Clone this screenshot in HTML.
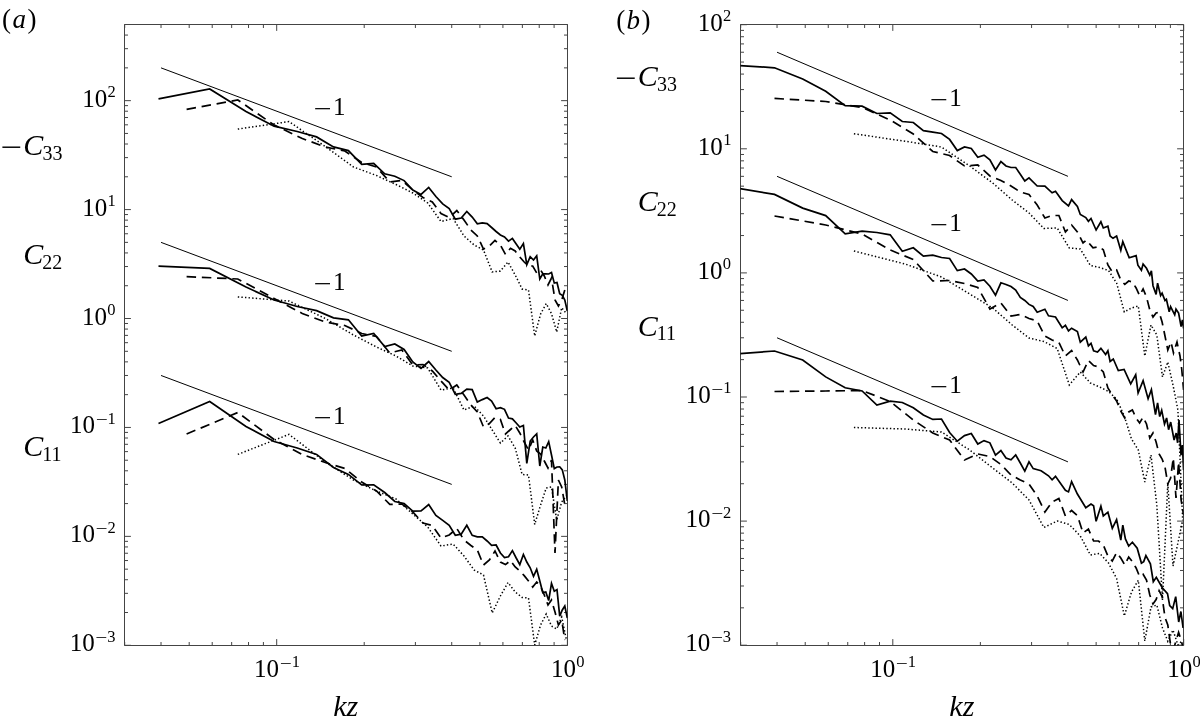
<!DOCTYPE html><html><head><meta charset="utf-8"><style>html,body{margin:0;padding:0;background:#fff;}svg{display:block}</style></head><body>
<svg width="1200" height="725" viewBox="0 0 1200 725" font-family="Liberation Serif, serif" fill="#000">
<rect width="1200" height="725" fill="#fff"/>
<path d="M124.5,24.5H567.5V645.5H124.5Z" fill="none" stroke="#444" stroke-width="1"/>
<path d="M124.70,645.5v-3.5M124.70,24.5v3.5M161.02,645.5v-3.5M161.02,24.5v3.5M189.19,645.5v-3.5M189.19,24.5v3.5M212.21,645.5v-3.5M212.21,24.5v3.5M231.67,645.5v-3.5M231.67,24.5v3.5M248.53,645.5v-3.5M248.53,24.5v3.5M263.40,645.5v-3.5M263.40,24.5v3.5M276.70,645.5v-6.4M276.70,24.5v6.4M364.21,645.5v-3.5M364.21,24.5v3.5M415.40,645.5v-3.5M415.40,24.5v3.5M451.72,645.5v-3.5M451.72,24.5v3.5M479.89,645.5v-3.5M479.89,24.5v3.5M502.91,645.5v-3.5M502.91,24.5v3.5M522.37,645.5v-3.5M522.37,24.5v3.5M539.23,645.5v-3.5M539.23,24.5v3.5M554.10,645.5v-3.5M554.10,24.5v3.5M567.40,645.5v-6.4M567.40,24.5v6.4M124.5,645.30h6.4M567.5,645.30h-6.4M124.5,612.51h3.5M567.5,612.51h-3.5M124.5,593.33h3.5M567.5,593.33h-3.5M124.5,579.72h3.5M567.5,579.72h-3.5M124.5,569.16h3.5M567.5,569.16h-3.5M124.5,560.54h3.5M567.5,560.54h-3.5M124.5,553.24h3.5M567.5,553.24h-3.5M124.5,546.93h3.5M567.5,546.93h-3.5M124.5,541.35h3.5M567.5,541.35h-3.5M124.5,536.37h6.4M567.5,536.37h-6.4M124.5,503.58h3.5M567.5,503.58h-3.5M124.5,484.40h3.5M567.5,484.40h-3.5M124.5,470.79h3.5M567.5,470.79h-3.5M124.5,460.23h3.5M567.5,460.23h-3.5M124.5,451.61h3.5M567.5,451.61h-3.5M124.5,444.31h3.5M567.5,444.31h-3.5M124.5,438.00h3.5M567.5,438.00h-3.5M124.5,432.42h3.5M567.5,432.42h-3.5M124.5,427.44h6.4M567.5,427.44h-6.4M124.5,394.65h3.5M567.5,394.65h-3.5M124.5,375.47h3.5M567.5,375.47h-3.5M124.5,361.86h3.5M567.5,361.86h-3.5M124.5,351.30h3.5M567.5,351.30h-3.5M124.5,342.68h3.5M567.5,342.68h-3.5M124.5,335.38h3.5M567.5,335.38h-3.5M124.5,329.07h3.5M567.5,329.07h-3.5M124.5,323.49h3.5M567.5,323.49h-3.5M124.5,318.51h6.4M567.5,318.51h-6.4M124.5,285.72h3.5M567.5,285.72h-3.5M124.5,266.54h3.5M567.5,266.54h-3.5M124.5,252.93h3.5M567.5,252.93h-3.5M124.5,242.37h3.5M567.5,242.37h-3.5M124.5,233.75h3.5M567.5,233.75h-3.5M124.5,226.45h3.5M567.5,226.45h-3.5M124.5,220.14h3.5M567.5,220.14h-3.5M124.5,214.56h3.5M567.5,214.56h-3.5M124.5,209.58h6.4M567.5,209.58h-6.4M124.5,176.79h3.5M567.5,176.79h-3.5M124.5,157.61h3.5M567.5,157.61h-3.5M124.5,144.00h3.5M567.5,144.00h-3.5M124.5,133.44h3.5M567.5,133.44h-3.5M124.5,124.82h3.5M567.5,124.82h-3.5M124.5,117.52h3.5M567.5,117.52h-3.5M124.5,111.21h3.5M567.5,111.21h-3.5M124.5,105.63h3.5M567.5,105.63h-3.5M124.5,100.65h6.4M567.5,100.65h-6.4M124.5,67.86h3.5M567.5,67.86h-3.5M124.5,48.68h3.5M567.5,48.68h-3.5M124.5,35.07h3.5M567.5,35.07h-3.5M124.5,24.51h3.5M567.5,24.51h-3.5" fill="none" stroke="#444" stroke-width="1"/>
<path d="M740.5,24.5H1183.5V645.5H740.5Z" fill="none" stroke="#444" stroke-width="1"/>
<path d="M740.69,645.5v-3.5M740.69,24.5v3.5M777.04,645.5v-3.5M777.04,24.5v3.5M805.23,645.5v-3.5M805.23,24.5v3.5M828.26,645.5v-3.5M828.26,24.5v3.5M847.74,645.5v-3.5M847.74,24.5v3.5M864.61,645.5v-3.5M864.61,24.5v3.5M879.49,645.5v-3.5M879.49,24.5v3.5M892.80,645.5v-6.4M892.80,24.5v6.4M980.37,645.5v-3.5M980.37,24.5v3.5M1031.59,645.5v-3.5M1031.59,24.5v3.5M1067.94,645.5v-3.5M1067.94,24.5v3.5M1096.13,645.5v-3.5M1096.13,24.5v3.5M1119.16,645.5v-3.5M1119.16,24.5v3.5M1138.64,645.5v-3.5M1138.64,24.5v3.5M1155.51,645.5v-3.5M1155.51,24.5v3.5M1170.39,645.5v-3.5M1170.39,24.5v3.5M1183.70,645.5v-6.4M1183.70,24.5v6.4M740.5,645.20h6.4M1183.5,645.20h-6.4M740.5,607.84h3.5M1183.5,607.84h-3.5M740.5,585.99h3.5M1183.5,585.99h-3.5M740.5,570.48h3.5M1183.5,570.48h-3.5M740.5,558.46h3.5M1183.5,558.46h-3.5M740.5,548.63h3.5M1183.5,548.63h-3.5M740.5,540.32h3.5M1183.5,540.32h-3.5M740.5,533.13h3.5M1183.5,533.13h-3.5M740.5,526.78h3.5M1183.5,526.78h-3.5M740.5,521.10h6.4M1183.5,521.10h-6.4M740.5,483.74h3.5M1183.5,483.74h-3.5M740.5,461.89h3.5M1183.5,461.89h-3.5M740.5,446.38h3.5M1183.5,446.38h-3.5M740.5,434.36h3.5M1183.5,434.36h-3.5M740.5,424.53h3.5M1183.5,424.53h-3.5M740.5,416.22h3.5M1183.5,416.22h-3.5M740.5,409.03h3.5M1183.5,409.03h-3.5M740.5,402.68h3.5M1183.5,402.68h-3.5M740.5,397.00h6.4M1183.5,397.00h-6.4M740.5,359.64h3.5M1183.5,359.64h-3.5M740.5,337.79h3.5M1183.5,337.79h-3.5M740.5,322.28h3.5M1183.5,322.28h-3.5M740.5,310.26h3.5M1183.5,310.26h-3.5M740.5,300.43h3.5M1183.5,300.43h-3.5M740.5,292.12h3.5M1183.5,292.12h-3.5M740.5,284.93h3.5M1183.5,284.93h-3.5M740.5,278.58h3.5M1183.5,278.58h-3.5M740.5,272.90h6.4M1183.5,272.90h-6.4M740.5,235.54h3.5M1183.5,235.54h-3.5M740.5,213.69h3.5M1183.5,213.69h-3.5M740.5,198.18h3.5M1183.5,198.18h-3.5M740.5,186.16h3.5M1183.5,186.16h-3.5M740.5,176.33h3.5M1183.5,176.33h-3.5M740.5,168.02h3.5M1183.5,168.02h-3.5M740.5,160.83h3.5M1183.5,160.83h-3.5M740.5,154.48h3.5M1183.5,154.48h-3.5M740.5,148.80h6.4M1183.5,148.80h-6.4M740.5,111.44h3.5M1183.5,111.44h-3.5M740.5,89.59h3.5M1183.5,89.59h-3.5M740.5,74.08h3.5M1183.5,74.08h-3.5M740.5,62.06h3.5M1183.5,62.06h-3.5M740.5,52.23h3.5M1183.5,52.23h-3.5M740.5,43.92h3.5M1183.5,43.92h-3.5M740.5,36.73h3.5M1183.5,36.73h-3.5M740.5,30.38h3.5M1183.5,30.38h-3.5M740.5,24.70h6.4M1183.5,24.70h-6.4" fill="none" stroke="#444" stroke-width="1"/>
<text x="82.16" y="106.65" font-size="25">10</text>
<text x="107.46" y="97.05" font-size="16.5">2</text>
<text x="697.76" y="30.70" font-size="25">10</text>
<text x="723.06" y="21.10" font-size="16.5">2</text>
<text x="82.24" y="215.58" font-size="25">10</text>
<text x="107.54" y="205.98" font-size="16.5">1</text>
<text x="697.84" y="154.80" font-size="25">10</text>
<text x="723.14" y="145.20" font-size="16.5">1</text>
<text x="81.88" y="324.51" font-size="25">10</text>
<text x="107.18" y="314.91" font-size="16.5">0</text>
<text x="697.48" y="278.90" font-size="25">10</text>
<text x="722.78" y="269.30" font-size="16.5">0</text>
<text x="70.03" y="433.44" font-size="25">10</text>
<text transform="translate(95.63,424.94) scale(1.28,1)" font-size="16.5">−</text>
<text x="107.54" y="423.84" font-size="16.5">1</text>
<text x="685.63" y="403.00" font-size="25">10</text>
<text transform="translate(711.23,394.50) scale(1.28,1)" font-size="16.5">−</text>
<text x="723.14" y="393.40" font-size="16.5">1</text>
<text x="69.95" y="542.37" font-size="25">10</text>
<text transform="translate(95.55,533.87) scale(1.28,1)" font-size="16.5">−</text>
<text x="107.46" y="532.77" font-size="16.5">2</text>
<text x="685.55" y="527.10" font-size="25">10</text>
<text transform="translate(711.15,518.60) scale(1.28,1)" font-size="16.5">−</text>
<text x="723.06" y="517.50" font-size="16.5">2</text>
<text x="69.68" y="651.30" font-size="25">10</text>
<text transform="translate(95.28,642.80) scale(1.28,1)" font-size="16.5">−</text>
<text x="107.20" y="641.70" font-size="16.5">3</text>
<text x="685.28" y="651.20" font-size="25">10</text>
<text transform="translate(710.88,642.70) scale(1.28,1)" font-size="16.5">−</text>
<text x="722.80" y="641.60" font-size="16.5">3</text>
<text x="254.12" y="677.0" font-size="25">10</text>
<text transform="translate(279.72,668.50) scale(1.28,1)" font-size="16.5">−</text>
<text x="291.63" y="667.40" font-size="16.5">1</text>
<text x="550.92" y="677.0" font-size="25">10</text>
<text x="576.22" y="667.40" font-size="16.5">0</text>
<text x="870.22" y="677.0" font-size="25">10</text>
<text transform="translate(895.82,668.50) scale(1.28,1)" font-size="16.5">−</text>
<text x="907.73" y="667.40" font-size="16.5">1</text>
<text x="1167.22" y="677.0" font-size="25">10</text>
<text x="1192.52" y="667.40" font-size="16.5">0</text>
<text x="2.11" y="28.2" font-size="27" letter-spacing="1.4">(<tspan font-style="italic">a</tspan>)</text>
<text x="616.21" y="28.6" font-size="27" letter-spacing="1.4">(<tspan font-style="italic">b</tspan>)</text>
<text transform="translate(0.82,157.40) scale(1.28,1)" font-size="30">−</text>
<text x="23.33" y="155.2" font-size="30" font-style="italic">C</text>
<text x="42.53" y="159.50" font-size="20">33</text>
<text x="23.13" y="264.2" font-size="30" font-style="italic">C</text>
<text x="42.33" y="268.50" font-size="20">22</text>
<text x="23.13" y="456.2" font-size="30" font-style="italic">C</text>
<text x="42.33" y="460.50" font-size="20">11</text>
<text transform="translate(615.32,88.40) scale(1.28,1)" font-size="30">−</text>
<text x="637.83" y="86.2" font-size="30" font-style="italic">C</text>
<text x="657.03" y="90.50" font-size="20">33</text>
<text x="637.63" y="211.2" font-size="30" font-style="italic">C</text>
<text x="656.83" y="215.50" font-size="20">22</text>
<text x="637.63" y="335.7" font-size="30" font-style="italic">C</text>
<text x="656.83" y="340.00" font-size="20">11</text>
<text x="333.27" y="716.2" font-size="30" font-style="italic">kz</text>
<text x="949.37" y="715.8" font-size="30" font-style="italic">kz</text>
<text transform="translate(313.41,116.75) scale(1.28,1)" font-size="25">−</text>
<text x="333.05" y="114.75" font-size="25">1</text>
<text transform="translate(313.41,292.30) scale(1.28,1)" font-size="25">−</text>
<text x="333.05" y="290.3" font-size="25">1</text>
<text transform="translate(313.41,425.80) scale(1.28,1)" font-size="25">−</text>
<text x="333.05" y="423.8" font-size="25">1</text>
<text transform="translate(929.71,107.70) scale(1.28,1)" font-size="25">−</text>
<text x="949.35" y="105.7" font-size="25">1</text>
<text transform="translate(929.71,232.90) scale(1.28,1)" font-size="25">−</text>
<text x="949.35" y="230.9" font-size="25">1</text>
<text transform="translate(929.71,394.70) scale(1.28,1)" font-size="25">−</text>
<text x="949.35" y="392.7" font-size="25">1</text>
<line x1="161.02" y1="67.86" x2="451.72" y2="176.79" stroke="#000" stroke-width="1"/>
<line x1="161.02" y1="242.37" x2="451.72" y2="351.30" stroke="#000" stroke-width="1"/>
<line x1="161.02" y1="375.47" x2="451.72" y2="484.40" stroke="#000" stroke-width="1"/>
<line x1="777.04" y1="52.23" x2="1067.94" y2="176.33" stroke="#000" stroke-width="1"/>
<line x1="777.04" y1="176.33" x2="1067.94" y2="300.43" stroke="#000" stroke-width="1"/>
<line x1="777.04" y1="337.79" x2="1067.94" y2="461.89" stroke="#000" stroke-width="1"/>
<defs><clipPath id="ca"><rect x="124.5" y="24.5" width="443" height="621"/></clipPath><clipPath id="cb"><rect x="740.5" y="24.5" width="443" height="621"/></clipPath></defs>
<path d="M158.5,98.8 209.7,89.0 246.0,111.5 274.1,126.2 297.2,131.5 316.6,136.9 333.5,146.9 348.4,150.6 361.7,164.4 373.7,163.5 384.7,173.8 394.8,176.2 404.1,180.6 412.8,190.0 421.0,194.4 428.7,187.4 435.9,196.5 442.7,203.9 449.2,208.5 455.3,219.2 461.2,218.0 466.8,211.4 472.2,217.1 477.3,223.8 482.3,222.8 487.1,223.6 491.6,227.5 496.1,231.5 500.4,235.0 504.5,237.0 508.5,241.2 512.4,238.4 516.2,244.0 519.8,249.2 523.4,243.6 526.8,264.7 530.2,256.7 533.5,260.0 536.7,255.8 539.8,279.0 542.8,273.8 545.8,273.8 548.7,274.0 551.5,272.6 554.3,283.1 557.0,282.5 559.7,293.7 562.3,295.4 564.8,300.0 567.3,311.0" fill="none" stroke="#000" stroke-linejoin="miter" stroke-miterlimit="4" stroke-width="1.7" clip-path="url(#ca)"/>
<path d="M186.6,109.4 237.8,100.0 274.1,125.0 302.3,138.5 325.3,147.0 344.8,151.0 361.7,162.5 376.5,167.0 389.8,182.0 401.9,180.5 412.8,190.0 423.0,197.5 432.3,202.0 441.0,213.5 449.2,217.5 456.8,210.5 464.0,220.0 470.9,230.0 477.3,236.0 483.5,249.0 489.4,246.0 495.0,240.5 500.4,245.0 505.5,254.5 510.5,248.3 515.2,251.0 519.8,257.0 524.2,262.0 528.5,266.0 532.7,266.0 536.7,273.0 540.6,270.0 544.3,276.0 548.0,285.0 551.5,278.0 555.0,300.0 558.4,306.0 561.7,300.0 564.8,290.0" fill="none" stroke="#000" stroke-linejoin="miter" stroke-miterlimit="4" stroke-width="1.7" stroke-dasharray="9.5 5.75" clip-path="url(#ca)"/>
<path d="M237.8,129.1 289.0,121.6 325.3,146.5 353.5,167.0 376.5,175.5 396.0,184.5 412.8,193.0 427.7,203.0 441.0,221.5 453.1,218.5 464.0,236.0 474.1,245.0 483.5,250.0 492.2,272.0 500.4,271.0 508.0,262.0 515.2,275.0 522.1,289.0 528.5,290.0 534.7,336.0 540.6,314.0 546.2,303.6 551.5,313.6 556.7,332.0 561.7,307.7 566.4,313.6" fill="none" stroke="#000" stroke-linejoin="miter" stroke-miterlimit="4" stroke-width="1.5" stroke-dasharray="1.4 2.2" clip-path="url(#ca)"/>
<path d="M158.5,266.2 209.7,268.4 246.0,287.0 274.1,300.0 297.2,306.5 316.6,310.6 333.5,317.8 348.4,319.8 361.7,336.0 373.7,333.5 384.7,346.5 394.8,344.0 404.1,349.4 412.8,362.0 421.0,368.5 428.7,361.5 435.9,370.0 442.7,377.5 449.2,382.3 455.3,394.4 461.2,393.4 466.8,389.1 472.2,389.6 477.3,402.1 482.3,399.6 487.1,397.5 491.6,401.0 496.1,408.7 500.4,407.6 504.5,409.3 508.5,418.1 512.4,418.9 516.2,423.0 519.8,427.0 523.4,425.5 526.8,463.3 530.2,441.0 533.5,437.0 536.7,433.9 539.8,466.0 542.8,447.0 545.8,448.0 548.7,441.6 551.5,455.0 554.3,468.6 557.0,467.0 559.7,466.8 562.3,469.9 564.8,480.0 567.3,501.0" fill="none" stroke="#000" stroke-linejoin="miter" stroke-miterlimit="4" stroke-width="1.7" clip-path="url(#ca)"/>
<path d="M186.6,276.6 237.8,279.0 274.1,298.4 302.3,313.5 325.3,322.0 344.8,325.5 361.7,333.5 376.5,336.5 389.8,353.0 401.9,350.0 412.8,365.0 423.0,364.5 432.3,371.0 441.0,381.0 449.2,390.0 456.8,385.0 464.0,395.0 470.9,405.0 477.3,412.0 483.5,427.0 489.4,423.5 495.0,417.5 500.4,419.5 505.5,434.0 510.5,429.5 515.2,425.5 519.8,433.0 524.2,442.0 528.5,450.0 532.7,440.0 536.7,451.0 540.6,454.0 544.3,461.0 548.0,468.0 551.5,460.0 555.0,553.0 558.4,480.0 561.7,487.0 564.8,505.0" fill="none" stroke="#000" stroke-linejoin="miter" stroke-miterlimit="4" stroke-width="1.7" stroke-dasharray="9.5 5.75" clip-path="url(#ca)"/>
<path d="M237.8,296.9 289.0,301.0 325.3,318.5 353.5,335.0 376.5,347.0 396.0,356.0 412.8,366.0 427.7,368.0 441.0,390.0 453.1,388.0 464.0,410.0 474.1,406.0 483.5,416.0 492.2,430.0 500.4,443.0 508.0,436.0 515.2,448.0 522.1,474.5 528.5,475.0 534.7,524.5 540.6,505.0 546.2,488.0 551.5,487.0 556.7,520.0 561.7,502.0 566.4,496.0" fill="none" stroke="#000" stroke-linejoin="miter" stroke-miterlimit="4" stroke-width="1.5" stroke-dasharray="1.4 2.2" clip-path="url(#ca)"/>
<path d="M158.5,423.5 209.7,401.5 246.0,426.5 274.1,441.5 297.2,448.0 316.6,454.4 333.5,467.5 348.4,474.4 361.7,485.0 373.7,484.8 384.7,492.5 394.8,501.5 404.1,503.5 412.8,511.2 421.0,511.0 428.7,504.6 435.9,515.4 442.7,520.4 449.2,525.3 455.3,535.3 461.2,534.2 466.8,525.3 472.2,535.3 477.3,536.9 482.3,536.9 487.1,541.0 491.6,545.4 496.1,545.0 500.4,553.0 504.5,557.5 508.5,556.8 512.4,550.6 516.2,558.0 519.8,564.6 523.4,554.5 526.8,562.0 530.2,567.8 533.5,576.3 536.7,569.3 539.8,581.0 542.8,592.7 545.8,592.0 548.7,600.5 551.5,583.4 554.3,591.2 557.0,589.6 559.7,616.1 562.3,610.0 564.8,606.0 567.3,618.0" fill="none" stroke="#000" stroke-linejoin="miter" stroke-miterlimit="4" stroke-width="1.7" clip-path="url(#ca)"/>
<path d="M186.6,434.0 237.8,412.5 274.1,439.5 302.3,454.5 325.3,462.5 344.8,468.5 361.7,482.0 376.5,491.0 389.8,504.4 401.9,504.0 412.8,512.0 423.0,523.0 432.3,525.5 441.0,538.0 449.2,535.0 456.8,528.5 464.0,540.0 470.9,545.5 477.3,550.0 483.5,565.0 489.4,560.0 495.0,551.0 500.4,562.0 505.5,564.6 510.5,560.5 515.2,567.0 519.8,571.0 524.2,575.6 528.5,581.0 532.7,587.0 536.7,582.0 540.6,586.5 544.3,595.0 548.0,605.0 551.5,600.0 555.0,612.0 558.4,625.0 561.7,620.0 564.8,640.0" fill="none" stroke="#000" stroke-linejoin="miter" stroke-miterlimit="4" stroke-width="1.7" stroke-dasharray="9.5 5.75" clip-path="url(#ca)"/>
<path d="M237.8,454.4 289.0,434.4 325.3,462.0 353.5,480.0 376.5,491.0 396.0,499.0 412.8,514.0 427.7,527.0 441.0,546.0 453.1,544.0 464.0,556.0 474.1,570.0 483.5,575.0 492.2,613.0 500.4,596.0 508.0,582.5 515.2,592.0 522.1,597.5 528.5,598.0 534.7,645.0 540.6,625.0 546.2,614.0 551.5,626.0 556.7,629.0 561.7,617.0 566.4,640.0" fill="none" stroke="#000" stroke-linejoin="miter" stroke-miterlimit="4" stroke-width="1.5" stroke-dasharray="1.4 2.2" clip-path="url(#ca)"/>
<path d="M738.1,65.4 774.5,67.8 802.7,79.0 825.7,91.2 845.2,105.6 862.1,106.2 876.9,113.5 890.2,112.8 902.3,121.5 913.3,122.5 923.4,130.6 932.8,132.1 941.5,133.5 949.6,139.4 957.3,150.6 964.5,146.9 971.3,148.5 977.8,157.2 984.0,155.2 989.9,159.8 995.5,170.0 1000.9,161.5 1006.0,166.0 1011.0,167.5 1015.7,167.5 1020.3,174.2 1024.8,181.0 1029.0,177.9 1037.2,186.0 1044.9,186.2 1052.1,192.8 1055.5,191.2 1062.2,200.6 1068.5,205.8 1071.6,199.6 1077.4,206.5 1080.3,214.5 1085.8,217.6 1088.4,221.3 1091.0,218.5 1096.1,230.0 1100.9,221.8 1103.3,228.0 1107.9,226.1 1110.1,236.0 1113.0,238.3 1116.6,236.0 1120.8,250.3 1122.8,241.6 1129.2,257.8 1136.1,255.7 1137.9,265.2 1141.4,270.2 1143.1,264.0 1146.5,268.3 1149.8,275.1 1151.4,270.8 1153.0,285.7 1156.1,294.4 1157.6,283.2 1160.6,295.6 1162.1,293.1 1165.0,300.5 1166.4,299.3 1169.2,311.7 1170.6,306.7 1174.7,314.8 1176.0,309.2 1178.6,313.0 1181.1,326.6 1182.4,319.8 1183.6,328.5" fill="none" stroke="#000" stroke-linejoin="miter" stroke-miterlimit="4" stroke-width="1.7" clip-path="url(#cb)"/>
<path d="M774.5,98.4 825.7,101.5 862.1,107.5 890.2,120.0 913.3,134.0 932.8,151.5 949.6,155.5 964.5,166.0 977.8,165.0 989.9,176.0 1000.9,180.5 1011.0,186.0 1020.3,192.0 1029.0,194.5 1037.2,205.0 1044.9,218.0 1052.1,215.5 1058.9,215.5 1065.4,232.0 1071.6,225.0 1077.4,232.0 1083.0,243.0 1086.5,240.0 1093.0,247.9 1098.5,246.6 1103.3,249.7 1107.9,265.0 1112.3,272.0 1116.6,270.0 1120.8,280.0 1124.8,284.4 1128.7,281.0 1132.4,282.0 1136.1,288.0 1139.6,295.6 1143.1,289.0 1146.5,297.0 1149.8,310.0 1153.0,317.0 1156.1,313.0 1159.1,312.0 1162.1,322.0 1165.0,336.0 1167.8,350.0 1171.0,342.0 1173.5,353.0 1177.0,342.0 1180.0,356.0 1181.7,369.0 1183.6,390.0" fill="none" stroke="#000" stroke-linejoin="miter" stroke-miterlimit="4" stroke-width="1.7" stroke-dasharray="9.5 5.75" clip-path="url(#cb)"/>
<path d="M853.9,133.8 905.1,141.2 941.5,147.0 969.7,166.0 992.7,183.0 1012.2,200.0 1029.0,213.0 1043.9,228.5 1057.2,228.0 1069.3,248.0 1080.3,249.0 1090.4,265.5 1099.7,267.5 1108.5,270.5 1116.6,283.0 1124.3,312.0 1131.5,308.0 1138.3,306.0 1144.8,356.0 1151.0,325.0 1156.8,335.0 1162.5,377.0 1167.8,362.0 1173.0,385.0 1177.9,410.0 1180.5,470.0 1182.7,520.0" fill="none" stroke="#000" stroke-linejoin="miter" stroke-miterlimit="4" stroke-width="1.5" stroke-dasharray="1.4 2.2" clip-path="url(#cb)"/>
<path d="M738.1,188.3 774.5,194.4 802.7,208.1 825.7,215.6 845.2,233.8 862.1,231.2 876.9,232.5 890.2,234.8 902.3,251.2 913.3,247.8 923.4,256.2 932.8,255.2 941.5,257.5 949.6,258.5 957.3,270.6 964.5,269.0 971.3,274.0 977.8,281.0 984.0,279.8 989.9,286.2 995.5,295.2 1000.9,282.8 1006.0,284.5 1011.0,286.5 1015.7,290.0 1020.3,297.5 1024.8,300.5 1029.0,304.4 1033.2,306.5 1037.2,312.3 1044.9,309.2 1048.5,315.8 1055.5,317.0 1062.2,327.8 1065.4,325.3 1068.5,330.9 1071.6,328.2 1077.4,331.5 1080.3,342.1 1085.8,337.1 1088.4,345.8 1091.0,343.3 1093.6,350.8 1097.5,352.0 1100.9,348.3 1105.6,354.5 1107.9,350.8 1110.1,361.5 1113.3,359.0 1118.3,370.6 1124.1,369.5 1130.7,383.9 1135.7,374.8 1138.1,393.0 1143.1,380.6 1148.1,398.8 1151.4,389.7 1155.5,414.5 1157.6,402.8 1159.7,416.6 1161.7,410.3 1164.5,424.1 1166.6,417.9 1168.6,429.7 1170.7,422.1 1174.1,440.0 1176.2,433.1 1177.6,442.8 1179.0,420.0 1181.0,455.2 1182.4,445.0 1183.6,470.0" fill="none" stroke="#000" stroke-linejoin="miter" stroke-miterlimit="4" stroke-width="1.7" clip-path="url(#cb)"/>
<path d="M774.5,216.0 825.7,225.0 862.1,234.0 890.2,250.0 913.3,259.5 932.8,281.0 949.6,280.5 964.5,283.5 977.8,287.5 989.9,309.0 1000.9,303.0 1011.0,316.0 1020.3,314.5 1029.0,318.5 1037.2,321.0 1044.9,336.0 1052.1,340.0 1058.9,342.5 1065.4,356.0 1071.6,350.5 1077.4,360.0 1083.0,372.0 1088.4,360.5 1093.6,365.5 1098.5,367.0 1103.3,372.0 1107.9,388.0 1112.3,395.0 1116.6,401.0 1120.8,411.0 1124.8,418.0 1128.7,412.0 1132.4,410.0 1136.1,418.0 1139.6,423.0 1143.1,417.0 1146.5,424.0 1149.8,438.0 1153.0,433.0 1156.1,442.0 1159.1,454.0 1162.1,459.0 1165.0,467.0 1167.8,484.0 1170.6,478.0 1173.3,458.0 1176.0,498.0 1178.6,462.0 1181.1,500.0 1183.6,515.0" fill="none" stroke="#000" stroke-linejoin="miter" stroke-miterlimit="4" stroke-width="1.7" stroke-dasharray="9.5 5.75" clip-path="url(#cb)"/>
<path d="M853.9,251.0 905.1,264.0 941.5,277.0 969.7,294.0 992.7,308.0 1012.2,325.0 1029.0,338.0 1043.9,341.5 1057.2,348.5 1069.3,385.0 1080.3,372.0 1090.4,383.0 1099.7,387.0 1108.5,391.5 1116.6,399.0 1124.3,416.0 1131.5,439.0 1138.3,450.0 1144.8,482.0 1151.0,455.0 1156.8,505.0 1162.5,600.0 1167.8,483.0 1173.0,566.0 1177.9,543.0 1182.7,520.0" fill="none" stroke="#000" stroke-linejoin="miter" stroke-miterlimit="4" stroke-width="1.5" stroke-dasharray="1.4 2.2" clip-path="url(#cb)"/>
<path d="M738.1,353.8 774.5,351.0 802.7,360.0 825.7,376.9 845.2,387.8 862.1,391.0 876.9,405.0 890.2,401.2 902.3,402.5 913.3,407.8 923.4,415.0 932.8,419.4 941.5,419.0 949.6,432.5 957.3,441.2 964.5,435.6 971.3,433.5 977.8,444.0 984.0,440.6 989.9,442.8 995.5,455.2 1000.9,450.6 1006.0,458.1 1011.0,459.8 1015.7,455.0 1020.3,463.0 1024.8,471.1 1029.0,461.8 1033.2,468.6 1041.1,470.8 1048.5,475.8 1052.1,479.8 1055.5,476.3 1065.4,490.3 1068.5,491.9 1071.6,481.6 1077.4,494.0 1085.8,507.7 1091.0,504.0 1093.6,505.8 1096.1,521.3 1100.9,506.1 1103.3,515.9 1107.9,512.2 1112.3,528.3 1116.6,519.6 1120.8,540.1 1122.8,525.2 1125.4,538.9 1128.7,546.0 1132.4,542.2 1137.2,548.2 1141.4,563.1 1143.7,561.6 1145.9,555.6 1150.4,563.8 1153.3,581.7 1156.3,577.3 1162.3,587.7 1167.5,593.7 1169.7,605.6 1172.7,608.6 1175.7,596.6 1178.7,622.0 1180.9,611.5 1183.1,628.0" fill="none" stroke="#000" stroke-linejoin="miter" stroke-miterlimit="4" stroke-width="1.7" clip-path="url(#cb)"/>
<path d="M774.5,391.5 825.7,391.0 862.1,390.5 890.2,401.5 913.3,420.0 932.8,433.0 949.6,440.0 964.5,460.0 977.8,454.0 989.9,456.5 1000.9,464.5 1011.0,475.0 1020.3,480.0 1029.0,484.0 1037.2,496.0 1044.9,512.0 1052.1,502.0 1058.9,498.4 1065.4,516.0 1071.6,510.5 1077.4,515.5 1083.0,533.0 1088.4,529.0 1093.6,541.0 1098.5,541.0 1103.3,545.0 1107.9,556.0 1112.3,561.0 1116.6,552.7 1120.8,558.0 1124.8,565.0 1128.7,557.0 1132.4,561.6 1136.1,568.0 1139.6,576.5 1143.1,574.3 1146.5,580.0 1149.8,595.0 1153.0,604.0 1156.1,599.6 1159.1,590.7 1162.1,596.6 1165.0,617.5 1167.8,625.0 1170.6,645.0 1173.3,650.0 1176.0,641.0 1178.6,632.4 1181.1,640.0 1183.6,650.0" fill="none" stroke="#000" stroke-linejoin="miter" stroke-miterlimit="4" stroke-width="1.7" stroke-dasharray="9.5 5.75" clip-path="url(#cb)"/>
<path d="M853.9,427.5 905.1,429.0 941.5,432.0 969.7,450.0 992.7,468.0 1012.2,483.0 1029.0,500.0 1043.9,527.5 1057.2,521.0 1069.3,524.5 1080.3,536.0 1090.4,555.0 1099.7,553.4 1108.5,563.0 1116.6,578.5 1124.3,616.0 1131.5,592.0 1138.3,580.2 1144.8,641.0 1151.0,607.0 1156.8,605.0 1162.5,628.0 1167.8,641.3 1173.0,630.0 1177.9,645.0 1182.7,640.0" fill="none" stroke="#000" stroke-linejoin="miter" stroke-miterlimit="4" stroke-width="1.5" stroke-dasharray="1.4 2.2" clip-path="url(#cb)"/>
</svg></body></html>
